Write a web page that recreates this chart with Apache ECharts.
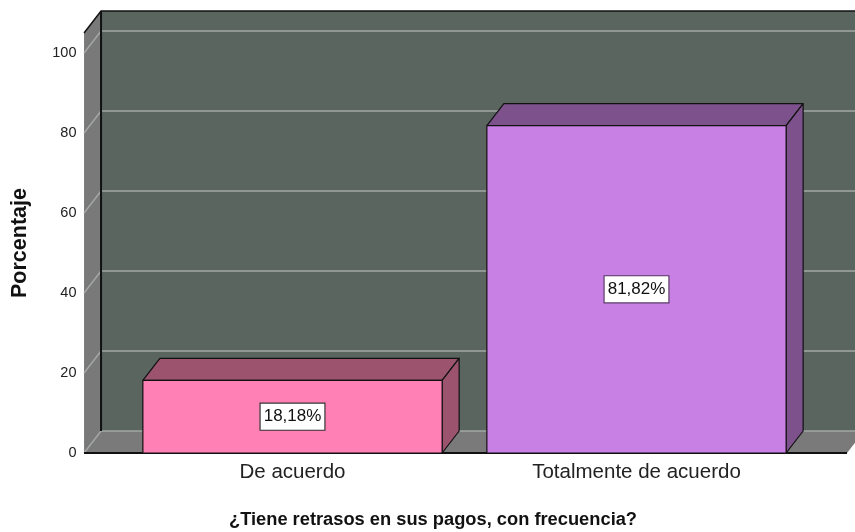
<!DOCTYPE html>
<html>
<head>
<meta charset="utf-8">
<script src="https://cdn.jsdelivr.net/npm/echarts@6/dist/echarts.min.js"></script>
<style>
  html, body { margin: 0; padding: 0; background: #fff; }
  #chart { width: 855px; height: 532px; }
</style>
</head>
<body>
<div id="chart"></div>
<script>
const categories = ['De acuerdo', 'Totalmente de acuerdo'];
const values = [18.18, 81.82];
const valueLabels = ['18,18%', '81,82%'];
const yTicks = [0, 20, 40, 60, 80, 100];

const frontColors = ['#ff80b4', '#c980e4'];
const darkColors = ['#9c546e', '#7d528c'];

// depth of the 3d box, in pixels
const DX = 17;
const DY = -22;
const FONT = 'Liberation Sans, Arial, sans-serif';

const myChart = echarts.init(document.getElementById('chart'));

const renderWalls = (params, api) => {
  const cs = params.coordSys;
  const band = api.size([1, 0])[0];
  const xl = api.coord([0, 0])[0] - band * 0.606;
  const xr = api.coord([1, 0])[0] + band * 0.612;
  const y0 = api.coord([0, 0])[1];
  const yTop = cs.y;
  const children = [];
  // back wall
  children.push({
    type: 'rect',
    shape: { x: xl + DX, y: yTop + DY, width: xr - xl, height: y0 - yTop },
    style: { fill: '#5b655f' },
  });
  // left wall
  children.push({
    type: 'polygon',
    shape: { points: [[xl, y0], [xl, yTop], [xl + DX, yTop + DY], [xl + DX, y0 + DY]] },
    style: { fill: '#797979' },
  });
  // floor
  children.push({
    type: 'polygon',
    shape: { points: [[xl, y0], [xr, y0], [xr + DX, y0 + DY], [xl + DX, y0 + DY]] },
    style: { fill: '#7a7a7a' },
  });
  // grid lines
  yTicks.forEach((t) => {
    const y = api.coord([0, t])[1];
    children.push({
      type: 'polyline',
      shape: { points: [[xl, y], [xl + DX, y + DY], [xr + DX, y + DY]] },
      style: { stroke: '#a3a8a5', lineWidth: 1.5, fill: null },
    });
  });
  // edges
  children.push({
    type: 'polyline',
    shape: { points: [[xl, yTop], [xl + DX, yTop + DY], [xr + DX + 20, yTop + DY]] },
    style: { stroke: '#111', lineWidth: 1.5, fill: null },
  });
  children.push({
    type: 'line',
    shape: { x1: xl + DX, y1: yTop + DY, x2: xl + DX, y2: y0 + DY },
    style: { stroke: '#111', lineWidth: 2 },
  });
  children.push({
    type: 'line',
    shape: { x1: xl, y1: y0, x2: xr, y2: y0 },
    style: { stroke: '#111', lineWidth: 2 },
  });
  return { type: 'group', children };
};

const renderBar = (params, api) => {
  const i = api.value(0);
  const v = api.value(1);
  const band = api.size([1, 0])[0];
  const half = band * 0.435;
  const c = api.coord([i, v]);
  const b = api.coord([i, 0]);
  const x0 = c[0] - half;
  const x1 = c[0] + half;
  const yt = c[1];
  const yb = b[1];
  const edge = { stroke: '#111', lineWidth: 1.2, lineJoin: 'round' };
  return {
    type: 'group',
    children: [
      {
        type: 'polygon',
        shape: { points: [[x0, yt], [x1, yt], [x1 + DX, yt + DY], [x0 + DX, yt + DY]] },
        style: Object.assign({ fill: darkColors[i] }, edge),
      },
      {
        type: 'polygon',
        shape: { points: [[x1, yb], [x1, yt], [x1 + DX, yt + DY], [x1 + DX, yb + DY]] },
        style: Object.assign({ fill: darkColors[i] }, edge),
      },
      {
        type: 'rect',
        shape: { x: x0, y: yt, width: x1 - x0, height: yb - yt },
        style: Object.assign({ fill: frontColors[i] }, edge),
      },
      {
        type: 'text',
        x: c[0],
        y: (yt + yb) / 2,
        style: {
          text: valueLabels[i],
          align: 'center',
          verticalAlign: 'middle',
          fontFamily: FONT,
          fontSize: 17,
          fill: '#111',
          backgroundColor: '#fff',
          borderColor: i === 1 ? '#5a3a66' : '#333',
          borderWidth: 1.2,
          padding: [5, 3, 4, 3],
        },
      },
    ],
  };
};

myChart.setOption({
  animation: false,
  grid: {
    left: 120.5,
    right: 46.5,
    top: 33,
    bottom: 79,
    outerBoundsMode: 'none',
    containLabel: false,
  },
  xAxis: {
    type: 'category',
    data: categories,
    axisLine: { show: false },
    axisTick: { show: false },
    axisLabel: {
      margin: 9,
      fontFamily: FONT,
      fontSize: 20.5,
      color: '#222',
    },
  },
  yAxis: {
    type: 'value',
    min: 0,
    max: 105,
    interval: 20,
    axisLine: { show: false },
    axisTick: { show: false },
    splitLine: { show: false },
    axisLabel: {
      margin: 44,
      fontFamily: FONT,
      fontSize: 14.5,
      color: '#222',
      showMaxLabel: false,
      padding: [5, 0, 0, 0],
    },
  },
  graphic: [
    {
      type: 'text',
      x: 20,
      y: 243,
      rotation: Math.PI / 2,
      style: {
        text: 'Porcentaje',
        align: 'center',
        verticalAlign: 'middle',
        fontFamily: FONT,
        fontSize: 21.5,
        fontWeight: 'bold',
        fill: '#111',
      },
    },
    {
      type: 'text',
      x: 433,
      y: 520,
      style: {
        text: '¿Tiene retrasos en sus pagos, con frecuencia?',
        align: 'center',
        verticalAlign: 'middle',
        fontFamily: FONT,
        fontSize: 18.3,
        fontWeight: 'bold',
        fill: '#111',
      },
    },
  ],
  series: [
    {
      type: 'custom',
      renderItem: renderWalls,
      data: [[0, 0]],
      z: 1,
      silent: true,
    },
    {
      type: 'custom',
      renderItem: renderBar,
      data: values.map((v, i) => [i, v]),
      z: 2,
    },
  ],
});
</script>
</body>
</html>
